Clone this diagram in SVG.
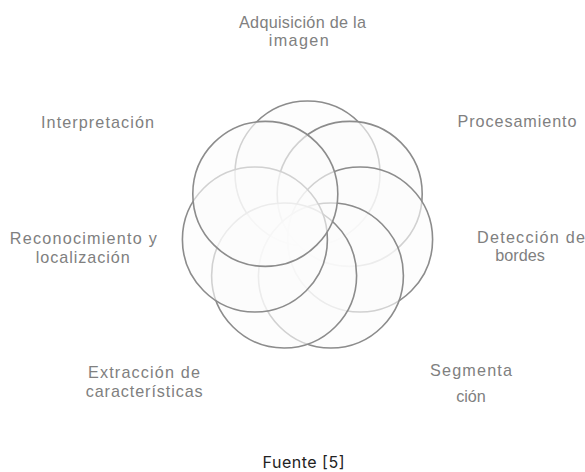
<svg xmlns="http://www.w3.org/2000/svg" width="585" height="472" viewBox="0 0 585 472">
<style>
.c{fill:#fbfbfb;fill-opacity:0.62;stroke:#8c8c8c;stroke-width:1.6}
.t{font-family:"Liberation Sans",Arial,sans-serif;font-size:16.2px;fill:#808080;text-anchor:middle}
.f{font-family:Inter,"Liberation Sans",sans-serif;font-size:16px;fill:#222;text-anchor:middle}
</style>
<rect width="585" height="472" fill="#fff"/>
<g id="adquisicion">
<circle class="c" cx="307.5" cy="173.5" r="72.5"/>
<text class="t" x="302.5" y="27.5" textLength="127" lengthAdjust="spacing">Adquisición de la</text>
<text class="t" x="298.7" y="46.3" textLength="60" lengthAdjust="spacing">imagen</text>
</g>
<g id="procesamiento">
<circle class="c" cx="349.7" cy="193.9" r="72.5"/>
<text class="t" x="517" y="126.7" textLength="119" lengthAdjust="spacing">Procesamiento</text>
</g>
<g id="deteccion">
<circle class="c" cx="360.1" cy="239.5" r="72.5"/>
<text class="t" x="531" y="242.8" textLength="108" lengthAdjust="spacing">Detección de</text>
<text class="t" x="520" y="261.3">bordes</text>
</g>
<g id="segmentacion">
<circle class="c" cx="330.9" cy="275.5" r="72.5"/>
<text class="t" x="471" y="375.7" textLength="82" lengthAdjust="spacing">Segmenta</text>
<text class="t" x="471" y="402.3">ción</text>
</g>
<g id="extraccion">
<circle class="c" cx="284.1" cy="275.5" r="72.5"/>
<text class="t" x="144" y="378.3" textLength="112" lengthAdjust="spacing">Extracción de</text>
<text class="t" x="144.2" y="396.8" textLength="117" lengthAdjust="spacing">características</text>
</g>
<g id="reconocimiento">
<circle class="c" cx="254.9" cy="239.5" r="72.5"/>
<text class="t" x="83.3" y="244.2" textLength="147" lengthAdjust="spacing">Reconocimiento y</text>
<text class="t" x="82.8" y="262.7" textLength="94" lengthAdjust="spacing">localización</text>
</g>
<g id="interpretacion">
<circle class="c" cx="265.3" cy="193.9" r="72.5"/>
<text class="t" x="97.5" y="127.5" textLength="113" lengthAdjust="spacing">Interpretación</text>
</g>
<g id="fuente">
<text class="f" x="303.5" y="468.3" textLength="82" lengthAdjust="spacing">Fuente [5]</text>
</g>
</svg>
